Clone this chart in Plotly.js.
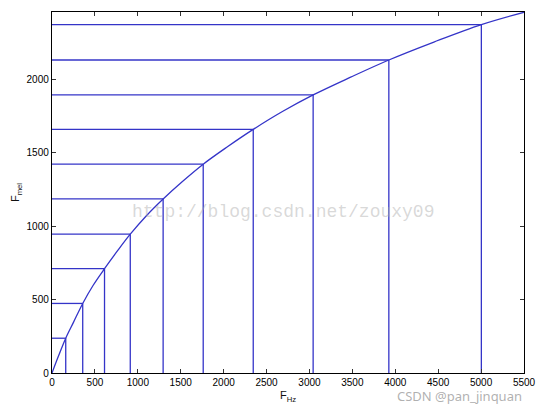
<!DOCTYPE html>
<html><head><meta charset="utf-8">
<script src="https://cdn.plot.ly/plotly-3.0.1.min.js"></script>
<style>html,body{margin:0;padding:0;background:#fff}#c{width:540px;height:407px}</style>
</head><body><div id="c"></div>
<script>
// Intersection points (Hz, mel)
const gridHz  = [160, 358, 612, 912, 1295, 1762, 2345, 3043, 3925, 5003];
const gridMel = [237, 474, 711, 946, 1186, 1423, 1660, 1895, 2133, 2374];
// Curve points (Hz, mel)
const curveHz  = [0, 80, 160, 250, 358, 480, 612, 760, 912, 1100, 1295, 1520, 1762, 2040, 2345, 2680, 3043, 3480, 3925, 4450, 5003, 5500];
const curveMel = [0, 122, 237, 345, 474, 598, 711, 830, 946, 1072, 1186, 1305, 1423, 1540, 1660, 1780, 1895, 2016, 2133, 2255, 2374, 2458];
const xTicks = [0, 500, 1000, 1500, 2000, 2500, 3000, 3500, 4000, 4500, 5000, 5500];
const yTicks = [0, 500, 1000, 1500, 2000];

const blue = 'rgb(52,52,200)';
const hx = [], hy = [], vx = [], vy = [];
for (let i = 0; i < gridHz.length; i++) {
  hx.push(0, gridHz[i], null); hy.push(gridMel[i], gridMel[i], null);
  vx.push(gridHz[i], gridHz[i], null); vy.push(0, gridMel[i], null);
}
const traces = [
  {x: hx, y: hy, mode: 'lines', line: {color: blue, width: 1.3}, hoverinfo: 'skip'},
  {x: vx, y: vy, mode: 'lines', line: {color: blue, width: 1.3}, hoverinfo: 'skip'},
  {x: curveHz, y: curveMel, mode: 'lines', line: {color: blue, width: 1.3, shape: 'spline'}}
];
const axBase = {
  showgrid: false, zeroline: false, showline: true, mirror: 'ticks', linecolor: '#000', linewidth: 1.2,
  ticks: 'inside', ticklen: 4, tickcolor: '#333', tickfont: {family: 'Liberation Sans, Arial', size: 10, color: '#000'}
};
const layout = {
  width: 540, height: 407, showlegend: false,
  paper_bgcolor: '#fff', plot_bgcolor: '#fff',
  margin: {l: 52, r: 16, t: 12, b: 34},
  xaxis: Object.assign({}, axBase, {range: [0, 5500], tickvals: xTicks, ticktext: xTicks.map(String),
    title: {text: 'F<sub>Hz</sub>', font: {family: 'Liberation Sans, Arial', size: 11, color: '#111'}, standoff: 4}}),
  yaxis: Object.assign({}, axBase, {range: [0, 2460], tickvals: yTicks, ticktext: yTicks.map(String),
    title: {text: 'F<sub>mel</sub>', font: {family: 'Liberation Sans, Arial', size: 11, color: '#111'}, standoff: 4}}),
  annotations: [
    {xref: 'paper', yref: 'paper', x: 0.165, y: 0.445, xanchor: 'left', yanchor: 'middle', showarrow: false,
     text: 'http://blog.csdn.net/zouxy09', font: {family: 'Liberation Mono, DejaVu Sans Mono', size: 18, color: 'rgba(170,170,170,0.45)'}},
    {xref: 'paper', yref: 'paper', x: 1.0, y: -0.065, xanchor: 'right', yanchor: 'middle', showarrow: false,
     text: 'CSDN @pan_jinquan', font: {family: 'Noto Sans, Liberation Sans', size: 13, color: 'rgba(150,150,150,0.75)'}}
  ]
};
Plotly.newPlot('c', traces, layout, {displayModeBar: false, staticPlot: true});
</script></body></html>
